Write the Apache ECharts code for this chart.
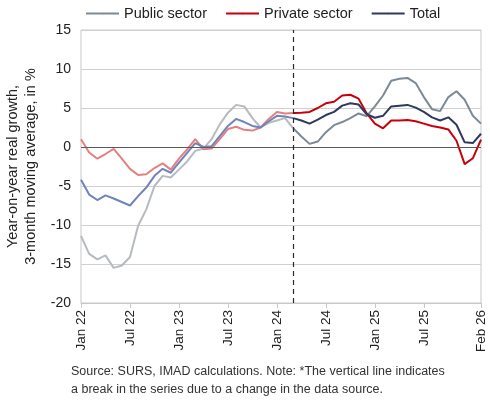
<!DOCTYPE html>
<html>
<head>
<meta charset="utf-8">
<script src="https://cdn.jsdelivr.net/npm/echarts@6/dist/echarts.min.js"></script>
<style>
  html, body { margin: 0; padding: 0; background: #fff; }
  #chart { width: 490px; height: 401px; }
</style>
</head>
<body>
<div id="chart"></div>
<script>
const months = [
  'Jan 22', 'Feb 22', 'Mar 22', 'Apr 22', 'May 22', 'Jun 22', 'Jul 22', 'Aug 22', 'Sep 22', 'Oct 22', 'Nov 22', 'Dec 22',
  'Jan 23', 'Feb 23', 'Mar 23', 'Apr 23', 'May 23', 'Jun 23', 'Jul 23', 'Aug 23', 'Sep 23', 'Oct 23', 'Nov 23', 'Dec 23',
  'Jan 24', 'Feb 24', 'Mar 24', 'Apr 24', 'May 24', 'Jun 24', 'Jul 24', 'Aug 24', 'Sep 24', 'Oct 24', 'Nov 24', 'Dec 24',
  'Jan 25', 'Feb 25', 'Mar 25', 'Apr 25', 'May 25', 'Jun 25', 'Jul 25', 'Aug 25', 'Sep 25', 'Oct 25', 'Nov 25', 'Dec 25',
  'Jan 26', 'Feb 26'
];
const tickLabels = ['Jan 22', 'Jul 22', 'Jan 23', 'Jul 23', 'Jan 24', 'Jul 24', 'Jan 25', 'Jul 25', 'Feb 26'];
const breakMonth = 'Mar 24';

const publicSector = [
  -11.4, -13.7, -14.4, -13.9, -15.5, -15.2, -14.1, -10.1, -8.0, -5.0, -3.7, -3.9,
  -2.9, -1.85, -0.5, -0.2, 1.0, 2.9, 4.4, 5.4, 5.2, 3.7, 2.5, 3.1,
  3.4, 3.7, 2.4, 1.35, 0.4, 0.7, 1.9, 2.8, 3.2, 3.7, 4.3, 3.95,
  5.2, 6.6, 8.5, 8.75, 8.85, 8.2, 6.4, 4.85, 4.6, 6.4, 7.15, 6.05,
  4.0, 3.0
];
const privateSector = [
  1.0, -0.7, -1.5, -0.9, -0.25, -1.5, -2.8, -3.6, -3.5, -2.7, -2.1, -2.9,
  -1.5, -0.3, 1.0, -0.3, -0.2, 1.0, 2.3, 2.6, 2.2, 2.1, 2.5, 3.6,
  4.5, 4.3, 4.35, 4.4, 4.5, 5.0, 5.6, 5.8, 6.6, 6.7, 6.2, 4.3,
  3.0, 2.4, 3.4, 3.4, 3.45, 3.3, 3.0, 2.7, 2.5, 2.25, 0.8, -2.2,
  -1.45, 0.95
];
const total = [
  -4.2, -6.1, -6.8, -6.2, -6.6, -7.05, -7.5, -6.3, -5.2, -3.7, -2.8, -3.3,
  -2.0, -0.75, 0.5, 0.0, 0.1, 1.4, 2.7, 3.6, 3.2, 2.7, 2.5, 3.3,
  4.0, 3.9, 3.7, 3.4, 3.0, 3.5, 4.1, 4.5, 5.3, 5.6, 5.45, 4.2,
  3.75, 4.0, 5.2, 5.3, 5.4, 5.05, 4.5, 3.8, 3.4, 3.8, 2.85, 0.6,
  0.5, 1.7
];

// split each series at the break: old source (faded) and new source (solid)
const breakIdx = months.indexOf(breakMonth);
function before(arr) { return arr.map((v, i) => (i <= breakIdx ? v : null)); }
function after(arr) { return arr.map((v, i) => (i >= breakIdx ? v : null)); }

function line(name, data, color, z) {
  return {
    name: name,
    type: 'line',
    data: data,
    symbol: 'none',
    z: z,
    lineStyle: { color: color, width: 2 },
    itemStyle: { color: color }
  };
}

const chart = echarts.init(document.getElementById('chart'));
const font = 'Liberation Sans';

const series = [
  line('Public old', before(publicSector), '#b6bbbf', 2),
  line('Private old', before(privateSector), '#e5807f', 3),
  line('Total old', before(total), '#7083bd', 4),
  line('Public sector', after(publicSector), '#7c8a95', 2),
  line('Private sector', after(privateSector), '#c8000b', 3),
  line('Total', after(total), '#2e3a5d', 4)
];
series[0].markLine = {
  silent: true,
  symbol: 'none',
  label: { show: false },
  data: [
    { yAxis: 0, lineStyle: { color: '#5a5a5a', width: 1, type: 'solid' } },
    { xAxis: breakMonth, lineStyle: { color: '#2a2a2a', width: 1.2, type: [5, 4] } }
  ]
};

chart.setOption({
  animation: false,
  backgroundColor: '#fff',
  textStyle: { fontFamily: font },
  legend: {
    data: ['Public sector', 'Private sector', 'Total'],
    top: 1,
    left: 80,
    itemWidth: 33,
    itemHeight: 2,
    itemGap: 18,
    textStyle: { fontSize: 14.5, color: '#222', fontFamily: font }
  },
  grid: {
    left: 81, right: 9, top: 30, bottom: 98,
    outerBoundsMode: 'none',
    show: true, borderColor: '#c8c8c8', borderWidth: 1
  },
  xAxis: {
    type: 'category',
    data: months,
    boundaryGap: false,
    axisLine: { onZero: false, lineStyle: { color: '#c8c8c8' } },
    axisTick: {
      length: 5,
      interval: (i, v) => tickLabels.includes(v),
      lineStyle: { color: '#c8c8c8' }
    },
    axisLabel: {
      interval: (i, v) => tickLabels.includes(v),
      rotate: 90,
      fontSize: 13.5,
      color: '#222',
      margin: 7,
      hideOverlap: false
    }
  },
  yAxis: {
    type: 'value',
    min: -20,
    max: 15,
    interval: 5,
    name: 'Year-on-year real growth,\n3-month moving average, in %',
    nameLocation: 'middle',
    nameGap: 29,
    nameTextStyle: { fontSize: 14.5, color: '#222', lineHeight: 18 },
    axisLine: { show: false },
    axisTick: { show: false },
    axisLabel: { fontSize: 14, color: '#222', margin: 10 },
    splitLine: { lineStyle: { color: '#d0d0d0' } }
  },
  graphic: [
    {
      type: 'text',
      left: 71,
      top: 363,
      style: {
        text: 'Source: SURS, IMAD calculations. Note: *The vertical line indicates\na break in the series due to a change in the data source.',
        font: '12.5px "Liberation Sans"',
        fill: '#333',
        lineHeight: 18
      }
    }
  ],
  series: series
});
</script>
</body>
</html>
